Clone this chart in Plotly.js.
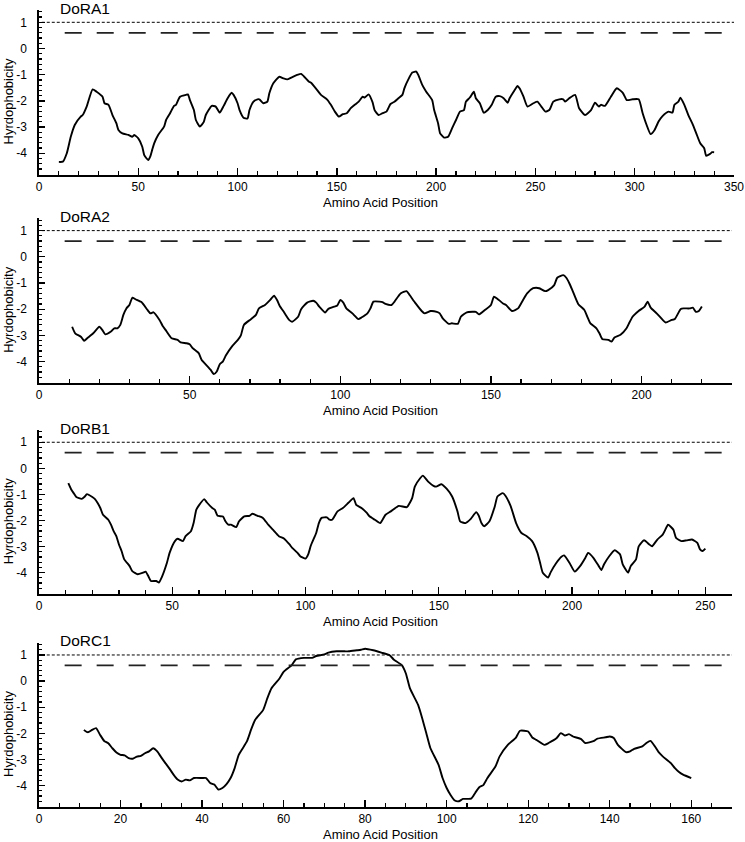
<!DOCTYPE html>
<html>
<head>
<meta charset="utf-8">
<script src="https://cdn.plot.ly/plotly-3.0.1.min.js"></script>
<style>html,body{margin:0;padding:0;background:#fff;}#chart{width:745px;height:842px;}</style>
</head>
<body>
<div id="chart"></div>
<script>
// ---------- DATA ----------
const panelNames = ["DoRA1", "DoRA2", "DoRB1", "DoRC1"];
const xAxisLabel = "Amino Acid Position";
const yAxisLabel = "Hyrdophobicity";
const thresholds = [1.0, 0.6];           // dotted line, long-dashed line
const xMax = [350, 230, 260, 170];
const xMajorStep = [50, 50, 50, 20];
const xMinorStep = [10, 10, 10, 5];
const yTickVals = [-4, -3, -2, -1, 0, 1];
const yTickText = ["-4", "-3", "-2", "-1", "0", "1"];

const posA1 = [10,12,14,16,18,21,22,24,27,29,32,33,35,37,39,40,42,45,47,48,50,52,53,55,56,57,58,60,63,64,66,68,69,71,74,75,76,78,79,81,83,84,87,89,91,93,95,97,98,100,101,103,105,106,108,110,111,113,115,116,118,121,123,125,127,130,132,134,136,137,140,142,145,147,149,151,153,155,157,159,161,163,164,166,168,169,171,173,175,177,179,181,183,184,186,188,190,191,193,195,198,199,201,202,204,206,208,210,212,214,215,217,219,220,222,224,226,228,230,232,234,236,237,239,241,242,244,246,249,251,253,255,257,259,262,264,265,267,270,272,275,278,280,282,283,285,288,291,294,296,299,302,304,306,308,310,312,314,317,319,320,322,323,325,327,329,331,333,335,336,338,339,340];
const valA1 = [-4.33,-4.32,-4.00,-3.37,-2.92,-2.60,-2.54,-2.22,-1.56,-1.65,-1.84,-2.09,-2.15,-2.54,-2.86,-3.11,-3.24,-3.30,-3.37,-3.30,-3.43,-3.75,-4.07,-4.26,-4.13,-3.87,-3.62,-3.30,-2.98,-2.73,-2.47,-2.19,-2.15,-1.84,-1.77,-1.75,-1.97,-2.35,-2.73,-2.98,-2.80,-2.54,-2.19,-2.22,-2.45,-2.19,-1.90,-1.69,-1.77,-2.09,-2.35,-2.64,-2.67,-2.35,-2.03,-1.94,-1.94,-2.09,-2.03,-1.71,-1.33,-1.08,-1.14,-1.18,-1.11,-1.01,-0.97,-1.11,-1.27,-1.31,-1.58,-1.77,-1.94,-2.15,-2.41,-2.60,-2.51,-2.47,-2.28,-2.15,-2.03,-1.84,-1.87,-1.75,-2.06,-2.35,-2.54,-2.47,-2.41,-2.12,-2.03,-1.90,-1.77,-1.52,-1.18,-0.92,-0.88,-1.01,-1.39,-1.65,-1.97,-2.35,-2.86,-3.24,-3.40,-3.37,-3.05,-2.73,-2.41,-2.35,-2.03,-1.87,-1.65,-1.90,-2.09,-2.45,-2.35,-2.15,-1.84,-1.82,-1.90,-2.07,-1.90,-1.65,-1.43,-1.52,-1.84,-2.22,-2.09,-2.03,-2.22,-2.41,-2.35,-2.03,-1.94,-1.94,-2.03,-1.90,-1.77,-2.28,-2.54,-2.35,-2.07,-2.22,-2.15,-2.19,-1.84,-1.52,-1.69,-1.97,-1.94,-1.94,-2.47,-2.92,-3.27,-3.11,-2.79,-2.58,-2.41,-2.45,-2.15,-2.03,-1.88,-2.15,-2.54,-2.86,-3.24,-3.62,-3.81,-4.10,-4.02,-3.96,-3.96];

const posA2 = [11,12,14,15,16,18,20,21,22,24,25,26,27,28,29,30,31,32,34,36,37,38,40,41,42,44,46,47,49,50,51,53,54,56,57,58,59,60,61,62,64,66,67,68,70,71,72,73,75,76,77,78,79,80,81,82,83,84,86,87,89,91,92,93,95,96,98,99,100,101,102,104,106,107,109,110,111,113,114,115,117,118,120,122,123,125,127,128,130,132,133,134,136,137,139,140,142,144,145,146,148,150,151,152,154,155,157,159,160,162,164,165,166,168,169,171,172,174,175,176,177,179,181,182,183,185,186,187,189,190,191,193,195,196,197,199,201,202,203,205,207,208,210,211,213,214,216,217,218,219,220];
const valA2 = [-2.67,-2.92,-3.06,-3.21,-3.11,-2.92,-2.67,-2.79,-2.96,-2.84,-2.73,-2.73,-2.60,-2.22,-1.97,-1.84,-1.56,-1.62,-1.73,-2.03,-2.16,-2.12,-2.41,-2.63,-2.79,-3.11,-3.17,-3.27,-3.30,-3.34,-3.49,-3.68,-3.94,-4.19,-4.32,-4.48,-4.38,-4.10,-4.00,-3.77,-3.43,-3.17,-3.00,-2.60,-2.41,-2.32,-2.22,-1.97,-1.84,-1.73,-1.61,-1.49,-1.65,-1.90,-2.06,-2.24,-2.41,-2.48,-2.29,-2.00,-1.75,-1.68,-1.75,-1.90,-2.13,-1.99,-1.90,-1.86,-1.65,-1.75,-1.97,-2.16,-2.38,-2.32,-2.16,-1.97,-1.71,-1.71,-1.73,-1.80,-1.84,-1.71,-1.40,-1.31,-1.46,-1.78,-2.07,-2.16,-2.07,-2.10,-2.16,-2.35,-2.56,-2.54,-2.56,-2.29,-2.12,-2.10,-2.10,-2.20,-2.03,-1.84,-1.52,-1.59,-1.78,-1.84,-2.07,-1.97,-1.78,-1.40,-1.20,-1.18,-1.20,-1.31,-1.27,-1.08,-0.80,-0.70,-0.80,-1.01,-1.27,-1.81,-2.03,-2.29,-2.54,-2.73,-2.92,-3.15,-3.17,-3.24,-3.08,-2.98,-2.73,-2.50,-2.29,-2.07,-1.90,-1.71,-1.94,-2.16,-2.41,-2.51,-2.41,-2.38,-1.99,-1.97,-1.97,-1.94,-2.10,-2.07,-1.90];

const posB1 = [11,12,13,14,16,17,18,20,21,22,23,24,26,27,28,29,30,31,32,34,35,37,39,40,41,42,44,45,46,48,49,51,52,54,55,57,58,59,60,62,63,65,66,67,69,70,71,72,74,75,77,79,80,82,84,86,88,90,92,94,95,97,98,100,101,102,104,105,106,108,109,110,112,114,116,118,119,121,123,124,126,128,130,132,135,138,140,141,143,144,146,148,149,151,153,155,157,158,160,162,164,165,166,167,169,171,172,174,175,177,179,181,183,185,187,188,189,191,192,194,196,197,199,201,203,205,206,208,210,211,212,214,216,218,219,221,222,224,225,227,229,230,232,234,235,236,238,239,241,243,245,247,248,249,250];
const valB1 = [-0.57,-0.79,-0.95,-1.10,-1.17,-1.10,-0.99,-1.10,-1.18,-1.33,-1.52,-1.78,-1.97,-2.16,-2.41,-2.60,-2.92,-3.18,-3.49,-3.75,-3.94,-4.06,-4.00,-3.96,-4.13,-4.32,-4.32,-4.38,-4.19,-3.62,-3.24,-2.79,-2.70,-2.79,-2.60,-2.41,-2.10,-1.59,-1.42,-1.18,-1.31,-1.52,-1.59,-1.82,-1.85,-2.04,-2.16,-2.16,-2.25,-2.04,-1.84,-1.82,-1.74,-1.82,-1.90,-2.16,-2.38,-2.60,-2.70,-2.92,-3.05,-3.24,-3.37,-3.46,-3.30,-2.96,-2.48,-2.10,-1.90,-1.88,-1.97,-1.97,-1.65,-1.52,-1.33,-1.14,-1.40,-1.52,-1.71,-1.84,-1.97,-2.10,-1.78,-1.65,-1.44,-1.49,-1.14,-0.70,-0.38,-0.28,-0.51,-0.67,-0.70,-0.61,-0.79,-1.08,-1.65,-2.03,-2.10,-1.94,-1.68,-1.82,-2.10,-2.22,-2.03,-1.46,-1.08,-0.95,-1.05,-1.46,-2.10,-2.48,-2.60,-2.79,-3.24,-3.62,-4.00,-4.19,-3.98,-3.64,-3.39,-3.34,-3.62,-3.96,-3.75,-3.43,-3.24,-3.43,-3.75,-3.90,-3.68,-3.36,-3.14,-3.30,-3.68,-4.00,-3.75,-3.49,-2.99,-2.76,-2.92,-2.99,-2.73,-2.54,-2.35,-2.16,-2.35,-2.67,-2.79,-2.76,-2.73,-2.86,-3.11,-3.17,-3.08];

const posC1 = [11,12,13,14,15,16,17,18,19,20,21,22,23,24,25,26,27,28,29,30,31,32,33,34,35,36,37,38,40,41,42,43,44,45,46,47,48,49,51,52,53,55,56,57,59,60,62,63,65,67,68,70,71,73,75,76,78,79,80,82,84,86,87,89,90,91,93,94,95,96,98,99,100,101,102,103,104,106,107,108,109,110,112,113,115,117,118,120,121,122,124,125,127,128,129,130,131,133,134,136,137,139,140,141,142,144,145,146,148,149,150,151,152,153,155,156,157,158,160];
const valC1 = [-1.87,-1.96,-1.87,-1.80,-2.06,-2.29,-2.38,-2.57,-2.73,-2.82,-2.84,-2.95,-2.97,-2.89,-2.86,-2.76,-2.69,-2.57,-2.69,-2.92,-3.14,-3.35,-3.58,-3.77,-3.84,-3.77,-3.80,-3.71,-3.71,-3.71,-3.90,-3.96,-4.15,-4.09,-3.94,-3.71,-3.33,-2.82,-2.31,-1.87,-1.49,-1.10,-0.66,-0.28,0.10,0.35,0.61,0.83,0.89,0.89,0.96,1.02,1.09,1.14,1.14,1.14,1.18,1.20,1.24,1.18,1.09,0.99,0.83,0.61,0.29,-0.28,-0.91,-1.42,-1.99,-2.56,-3.20,-3.71,-4.09,-4.37,-4.57,-4.60,-4.51,-4.50,-4.28,-4.06,-3.98,-3.71,-3.26,-2.88,-2.44,-2.16,-1.90,-1.93,-2.16,-2.25,-2.44,-2.37,-2.18,-1.99,-2.08,-2.03,-2.12,-2.22,-2.37,-2.30,-2.20,-2.15,-2.12,-2.18,-2.44,-2.72,-2.69,-2.59,-2.50,-2.37,-2.29,-2.48,-2.72,-2.88,-3.14,-3.33,-3.48,-3.58,-3.71];

const seriesPos = [posA1, posA2, posB1, posC1];
const seriesVal = [valA1, valA2, valB1, valC1];

// ---------- LAYOUT (pixel geometry of the reference) ----------
const W = 745, H = 842;
const plotTop = [10, 218.3, 430, 642.7];
const plotBottom = [175, 383.3, 594.3, 807.3];
const plotLeft = 39;
const plotRight = [734, 732, 732, 732];
const yRange = [-4.83, 1.47];
const FONT = "Liberation Sans, Arial, Helvetica, sans-serif";

const traces = [];
const layout = {
  width: W, height: H,
  margin: {l: 0, r: 0, t: 0, b: 0, pad: 0},
  paper_bgcolor: "#fff", plot_bgcolor: "rgba(0,0,0,0)",
  showlegend: false,
  font: {family: FONT, size: 12, color: "#000"},
  shapes: [], annotations: []
};

for (let i = 0; i < 4; i++) {
  const sfx = i === 0 ? "" : String(i + 1);
  const xa = "xaxis" + sfx, ya = "yaxis" + sfx;
  const xr = "x" + sfx, yr = "y" + sfx;
  traces.push({
    type: "scatter", mode: "lines",
    x: seriesPos[i], y: seriesVal[i],
    xaxis: xr, yaxis: yr,
    line: {color: "#000", width: 1.9, shape: "spline", smoothing: 0.5},
    hoverinfo: "skip"
  });
  const yDom = [1 - plotBottom[i] / H, 1 - plotTop[i] / H];
  layout[xa] = {
    domain: [plotLeft / W, plotRight[i] / W],
    anchor: yr,
    range: [0, xMax[i]],
    tickmode: "linear", tick0: 0, dtick: xMajorStep[i],
    ticks: "inside", ticklen: 7, tickwidth: 1.3, tickcolor: "#000",
    minor: {tickmode: "linear", tick0: 0, dtick: xMinorStep[i], ticks: "inside", ticklen: 4, tickwidth: 1.2, tickcolor: "#000", showgrid: false},
    showline: true, linecolor: "#000", linewidth: 1.6,
    showgrid: false, zeroline: false,
    tickfont: {family: FONT, size: 12, color: "#000"},
    ticklabelstandoff: 0,
    fixedrange: true
  };
  layout[ya] = {
    domain: yDom,
    anchor: xr,
    range: yRange,
    tickmode: "array", tickvals: yTickVals, ticktext: yTickText,
    ticks: "inside", ticklen: 6, tickwidth: 1.3, tickcolor: "#000",
    minor: {tickmode: "linear", tick0: 0, dtick: 0.2, ticks: "inside", ticklen: 3, tickwidth: 1.2, tickcolor: "#000", showgrid: false},
    showline: true, linecolor: "#000", linewidth: 1.6,
    showgrid: false, zeroline: false,
    tickfont: {family: FONT, size: 12, color: "#000"},
    ticklabelstandoff: 8,
    fixedrange: true
  };
  // reference lines
  layout.shapes.push({
    type: "line", xref: xr + " domain", yref: yr,
    x0: 0.004, x1: 1, y0: thresholds[0], y1: thresholds[0],
    line: {color: "#000", width: 1, dash: "3px,2px"}
  });
  layout.shapes.push({
    type: "line", xref: xr + " domain", yref: yr,
    x0: 0.037, x1: 1, y0: thresholds[1], y1: thresholds[1],
    line: {color: "#222", width: 1.8, dash: "17px,15px"}
  });
  // panel title
  layout.annotations.push({
    xref: "paper", yref: "paper", x: 58 / W, y: 1 - (plotTop[i] - 2) / H,
    xanchor: "left", yanchor: "middle", showarrow: false,
    text: panelNames[i], font: {family: FONT, size: 15.5, color: "#000"}
  });
  // x axis title
  layout.annotations.push({
    xref: "paper", yref: "paper", x: 380 / W, y: 1 - (plotBottom[i] + 27.5) / H,
    xanchor: "center", yanchor: "middle", showarrow: false,
    text: xAxisLabel, font: {family: FONT, size: 13, color: "#000"}
  });
  // y axis title
  layout.annotations.push({
    xref: "paper", yref: "paper", x: 8.5 / W,
    y: 1 - ((plotTop[i] + plotBottom[i]) / 2 + 9.5) / H,
    xanchor: "center", yanchor: "middle", showarrow: false, textangle: -90,
    text: yAxisLabel, font: {family: FONT, size: 13, color: "#000"}
  });
}

Plotly.newPlot("chart", traces, layout, {displayModeBar: false, staticPlot: true});
</script>
</body>
</html>
